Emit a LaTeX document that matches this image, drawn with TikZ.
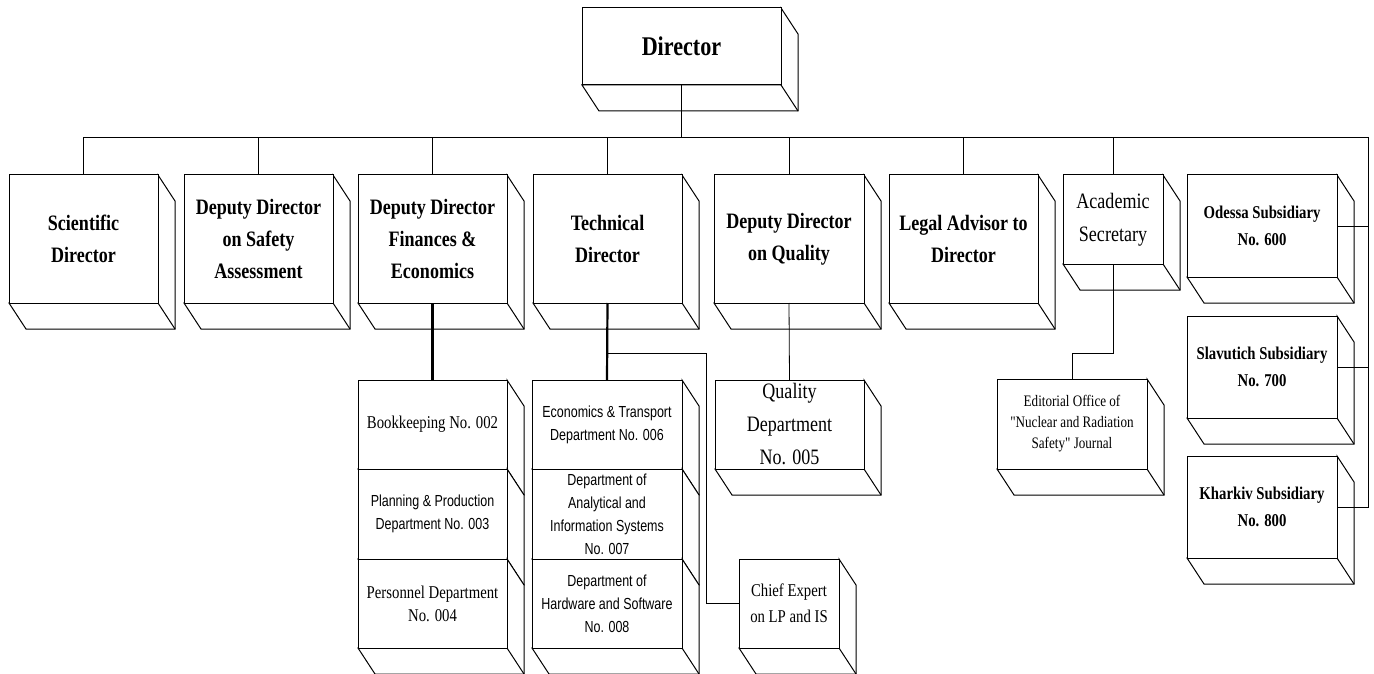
\documentclass[tikz,border=0pt]{standalone}
\usepackage{fontspec}
\newfontfamily\tmsfont[FakeStretch=0.82]{Liberation Serif}
\newfontfamily\arlfont[FakeStretch=0.78]{Liberation Sans}

\tikzset{
  cube/.style={draw, fill=white, line width=1pt, inner sep=0pt, outer sep=0pt,
    anchor=north west, align=center,
    append after command={\pgfextra{
      \filldraw[fill=white, line width=1pt]
        (\tikzlastnode.north east) -- ++(17,26)
        -- ([shift={(17,26)}]\tikzlastnode.south east)
        -- ([shift={(17,26)}]\tikzlastnode.south west)
        -- (\tikzlastnode.south west) -- (\tikzlastnode.south east) -- cycle;
      \draw[line width=1pt] (\tikzlastnode.south east) -- ++(17,26);}}},
  head/.style={cube, minimum width=149pt, minimum height=128pt,
    font=\tmsfont\bfseries\fontsize{22}{32}\selectfont},
  subsid/.style={cube, minimum width=150pt, minimum height=102pt,
    font=\tmsfont\bfseries\fontsize{18}{27}\selectfont},
  dept/.style={cube, minimum width=150pt, minimum height=89pt,
    font=\tmsfont\fontsize{18}{23}\selectfont},
  deptsf/.style={dept, font=\arlfont\fontsize{16}{23}\selectfont},
  link/.style={line width=0.8pt},
  boldlink/.style={line width=2.2pt},
}

\begin{document}
\begin{tikzpicture}[x=1pt, y=-1pt]
\useasboundingbox (0,0) rectangle (1374,674);

% top
\node[cube, minimum width=199pt, minimum height=77pt,
  font=\tmsfont\bfseries\fontsize{27}{32}\selectfont] (dir) at (582,8) {Director};

% first level
\node[head] (sci) at (9,175) {Scientific\\Director};
\node[head] (saf) at (184,175) {Deputy Director\\on Safety\\Assessment};
\node[head] (fin) at (358,175) {Deputy Director\\Finances \&\\Economics};
\node[head] (tec) at (533,175) {Technical\\Director};
\node[head, minimum width=150pt] (qua) at (714,175) {Deputy Director\\on Quality};
\node[head] (leg) at (889,175) {Legal Advisor to\\Director};
\node[cube, minimum width=100pt, minimum height=89pt,
  font=\tmsfont\fontsize{22}{33}\selectfont] (aca) at (1063,175) {Academic\\Secretary};

% subsidiaries
\node[subsid] (ode) at (1187,175) {Odessa Subsidiary\\No. 600};
\node[subsid] (sla) at (1187,316) {Slavutich Subsidiary\\No. 700};
\node[subsid] (kha) at (1187,456) {Kharkiv Subsidiary\\No. 800};

% departments
\node[dept, minimum width=149pt] (bk) at (358,380) {Bookkeeping No. 002};
\node[deptsf, minimum width=149pt, minimum height=90pt] (pp) at (358,469) {Planning \& Production\\Department No. 003};
\node[dept, minimum width=149pt] (pe) at (358,559) {Personnel Department\\No. 004};

\node[deptsf] (et) at (532,380) {Economics \& Transport\\Department No. 006};
\node[deptsf, minimum height=90pt] (ai) at (532,469) {Department of\\Analytical and\\Information Systems\\No. 007};
\node[deptsf] (hs) at (532,559) {Department of\\Hardware and Software\\No. 008};

\node[dept, minimum width=149pt, font=\tmsfont\fontsize{22}{33}\selectfont] (qd) at (715,380) {Quality\\Department\\No. 005};
\node[dept, minimum width=100pt, font=\tmsfont\fontsize{18}{26}\selectfont] (ce) at (739,559) {Chief Expert\\on LP and IS};
\node[dept, minimum height=90pt, font=\tmsfont\fontsize{16}{21}\selectfont] (edi) at (997,379) {Editorial Office of\\"Nuclear and Radiation\\Safety" Journal};

% connectors
\coordinate (busL) at (84,137);
\coordinate (busR) at (1368,137);
\coordinate (tj) at (607.5,353);
\draw[link] (dir.south) -- (dir.south |- busL);
\draw[link] (busL) -- (busR);
\foreach \n in {sci,saf,fin,tec,qua,leg,aca}
  \draw[link] (\n.north) -- (\n.north |- busL);
\draw[link] (busR) |- (kha.east);
\draw[link] (ode.east) -- (ode.east -| busR);
\draw[link] (sla.east) -- (sla.east -| busR);
\draw[boldlink] (fin.south) -- (bk.north);
\draw[boldlink] (tec.south) -- (et.north);
\draw[link] (tj) -- ++(98.5,0) |- (ce.west);
\draw[link] (qua.south) -- (qd.north);
\draw[link] (aca.south) -- ++(0,89) -| (edi.north);
\end{tikzpicture}
\end{document}
